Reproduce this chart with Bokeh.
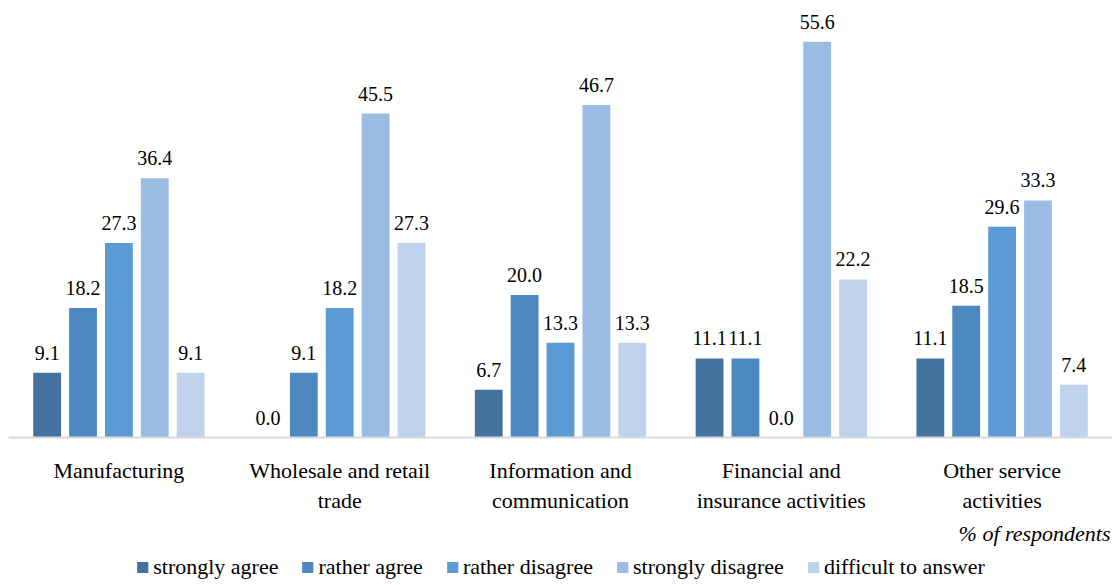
from bokeh.plotting import figure
from bokeh.models import ColumnDataSource, Range1d, Span, Legend, LegendItem, Label
from bokeh.core.properties import value
from bokeh.embed import file_html
from bokeh.resources import INLINE

categories = [["Manufacturing"], ["Wholesale and retail", "trade"], ["Information and", "communication"],
              ["Financial and", "insurance activities"], ["Other service", "activities"]]
series = ["strongly agree", "rather agree", "rather disagree", "strongly disagree", "difficult to answer"]
values = {
    "strongly agree": [9.1, 0.0, 6.7, 11.1, 11.1],
    "rather agree": [18.2, 9.1, 20.0, 11.1, 18.5],
    "rather disagree": [27.3, 18.2, 13.3, 0.0, 29.6],
    "strongly disagree": [36.4, 45.5, 46.7, 55.6, 33.3],
    "difficult to answer": [9.1, 27.3, 13.3, 22.2, 7.4],
}
colors = ["#43729e", "#4e88c0", "#5b9bd5", "#9bbce2", "#bfd3ec"]

W, H = 1112, 582
px_per_unit = 7.12
base_px = 437
top = base_px / px_per_unit
bottom = -(H - base_px) / px_per_unit

p = figure(width=W, height=H, output_backend="svg", toolbar_location=None,
           x_range=Range1d(0, 5), y_range=Range1d(bottom, top),
           min_border_left=8, min_border_right=0, min_border_top=0, min_border_bottom=0)
p.xaxis.visible = False
p.yaxis.visible = False
p.grid.visible = False
p.outline_line_color = None

font = "Liberation Serif"
pitch = 0.1625
bw = 0.126
items = []
for j, s in enumerate(series):
    xs = [i + 0.5 + (j - 2) * pitch for i in range(len(categories))]
    src = ColumnDataSource(dict(x=xs, top=values[s], lab=["%.1f" % v for v in values[s]]))
    r = p.vbar(x="x", top="top", bottom=0, width=bw, source=src, fill_color=colors[j], line_color=None)
    p.text(x="x", y="top", text="lab", source=src, text_align="center", text_baseline="bottom",
           y_offset=-13, text_font=value(font), text_font_size="20px", text_color="black")
    items.append(LegendItem(label=s, renderers=[r]))

p.add_layout(Span(location=0, dimension="width", line_color="#d9d9d9", line_width=2))

for i, lines in enumerate(categories):
    for k, ln in enumerate(lines):
        p.text(x=[i + 0.5], y=[0], text=[ln], text_align="center", text_baseline="middle",
               y_offset=33 + 30 * k, text_font=value(font), text_font_size="22px", text_color="black")

p.add_layout(Label(x=W - 10, y=H - 533, x_units="screen", y_units="screen", text="% of respondents",
                   text_align="right", text_baseline="middle", text_font=font, text_font_size="22px",
                   text_font_style="italic", text_color="black"))

legend = Legend(items=items, orientation="horizontal", location="bottom_center",
                label_text_font=font, label_text_font_size="22px", label_text_color="black",
                glyph_width=14, glyph_height=14, spacing=22, padding=2, margin=2,
                label_standoff=4, border_line_color=None, background_fill_alpha=0)
p.add_layout(legend)

open("out.html", "w").write(file_html(p, INLINE))
